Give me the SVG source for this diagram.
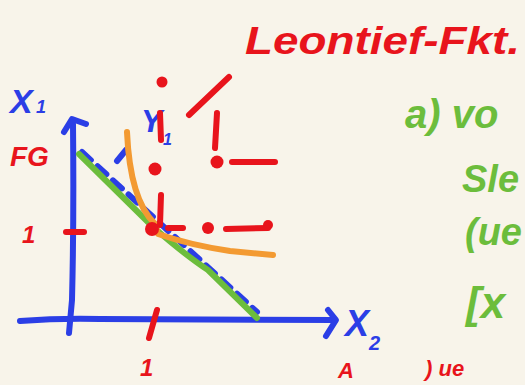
<svg xmlns="http://www.w3.org/2000/svg" width="525" height="385" viewBox="0 0 525 385">
<style>
.s{fill:none;stroke-width:6;stroke-linecap:round;stroke-linejoin:round}
.b{stroke:#2b3ee6}.r{stroke:#e8141c}.g{stroke:#6cbd3c}.o{stroke:#f39a32}
.dot{fill:#e8141c}
.t{font-family:"Liberation Sans","DejaVu Sans",sans-serif;font-style:italic;font-weight:bold}
.tr{fill:#e8141c}.tb{fill:#2b3ee6}.tg{fill:#6cbd3c}
</style>
<rect width="525" height="385" fill="#f8f4ea"/>
<g id="axes">
<path class="s b" d="M20,321 Q60,318 100,319 L335,320"/>
<path class="s b" d="M328,310 L336,320 L326,336"/>
<path class="s b" d="M73,124 Q74,220 72,300 L69,333"/>
<path class="s b" d="M64,132 L72,119 L86,124"/>
<path class="s r" d="M66,232 L84,232"/>
<path class="s r" d="M157,310 L149,338"/>
</g>
<g id="lines">
<path class="s b" d="M82,152 L257,312" stroke-dasharray="12 9"/>
<path class="s b" d="M117,161 L126,150"/>
<path class="s g" d="M79,154 L152,226 Q185,255 208,270 L257,318"/>
<path class="s o" d="M127,132 Q130,200 155,224 L158,234 Q190,245 230,251 L273,255"/>
</g>
<g id="redmarks">
<circle class="dot" cx="162" cy="82" r="5.5"/>
<circle class="dot" cx="155" cy="169" r="6.5"/>
<circle class="dot" cx="152" cy="229" r="7"/>
<circle class="dot" cx="217" cy="162" r="6.5"/>
<circle class="dot" cx="208" cy="228" r="6"/>
<circle class="dot" cx="268" cy="225" r="5"/>
<path class="s r" d="M189,115 L229,77"/>
<path class="s r" d="M217,113 L215,148"/>
<path class="s r" d="M232,162 L275,162"/>
<path class="s r" d="M161,195 L160,225"/>
<path class="s r" d="M168,228 L183,228"/>
<path class="s r" d="M226,229 L268,228"/>
</g>
<g id="labels">
<text class="t tb" x="10" y="113" font-size="34">X</text>
<text class="t tb" x="36" y="113" font-size="18">1</text>
<text class="t tr" x="10" y="166" font-size="28">FG</text>
<text class="t tr" x="22" y="243" font-size="24">1</text>
<text class="t tr" x="140" y="376" font-size="24">1</text>
<text class="t tb" x="345" y="336" font-size="36">X</text>
<text class="t tb" x="369" y="350" font-size="20">2</text>
<text class="t tb" x="141" y="132" font-size="32">Y</text>
<text class="t tb" x="163" y="145" font-size="16">1</text>
<path class="s r" d="M160,113 L161,140"/>
<text class="t tr" x="245" y="54" font-size="38" textLength="275" lengthAdjust="spacingAndGlyphs">Leontief-Fkt.</text>
<text class="t tg" x="405" y="128" font-size="40">a) vo</text>
<text class="t tg" x="462" y="192" font-size="38">Sle</text>
<text class="t tg" x="465" y="245" font-size="38">(ue</text>
<text class="t tg" x="466" y="318" font-size="44">[x</text>
<text class="t tr" x="338" y="378" font-size="22">A</text>
<text class="t tr" x="425" y="376" font-size="22">) ue</text>
</g>
</svg>
